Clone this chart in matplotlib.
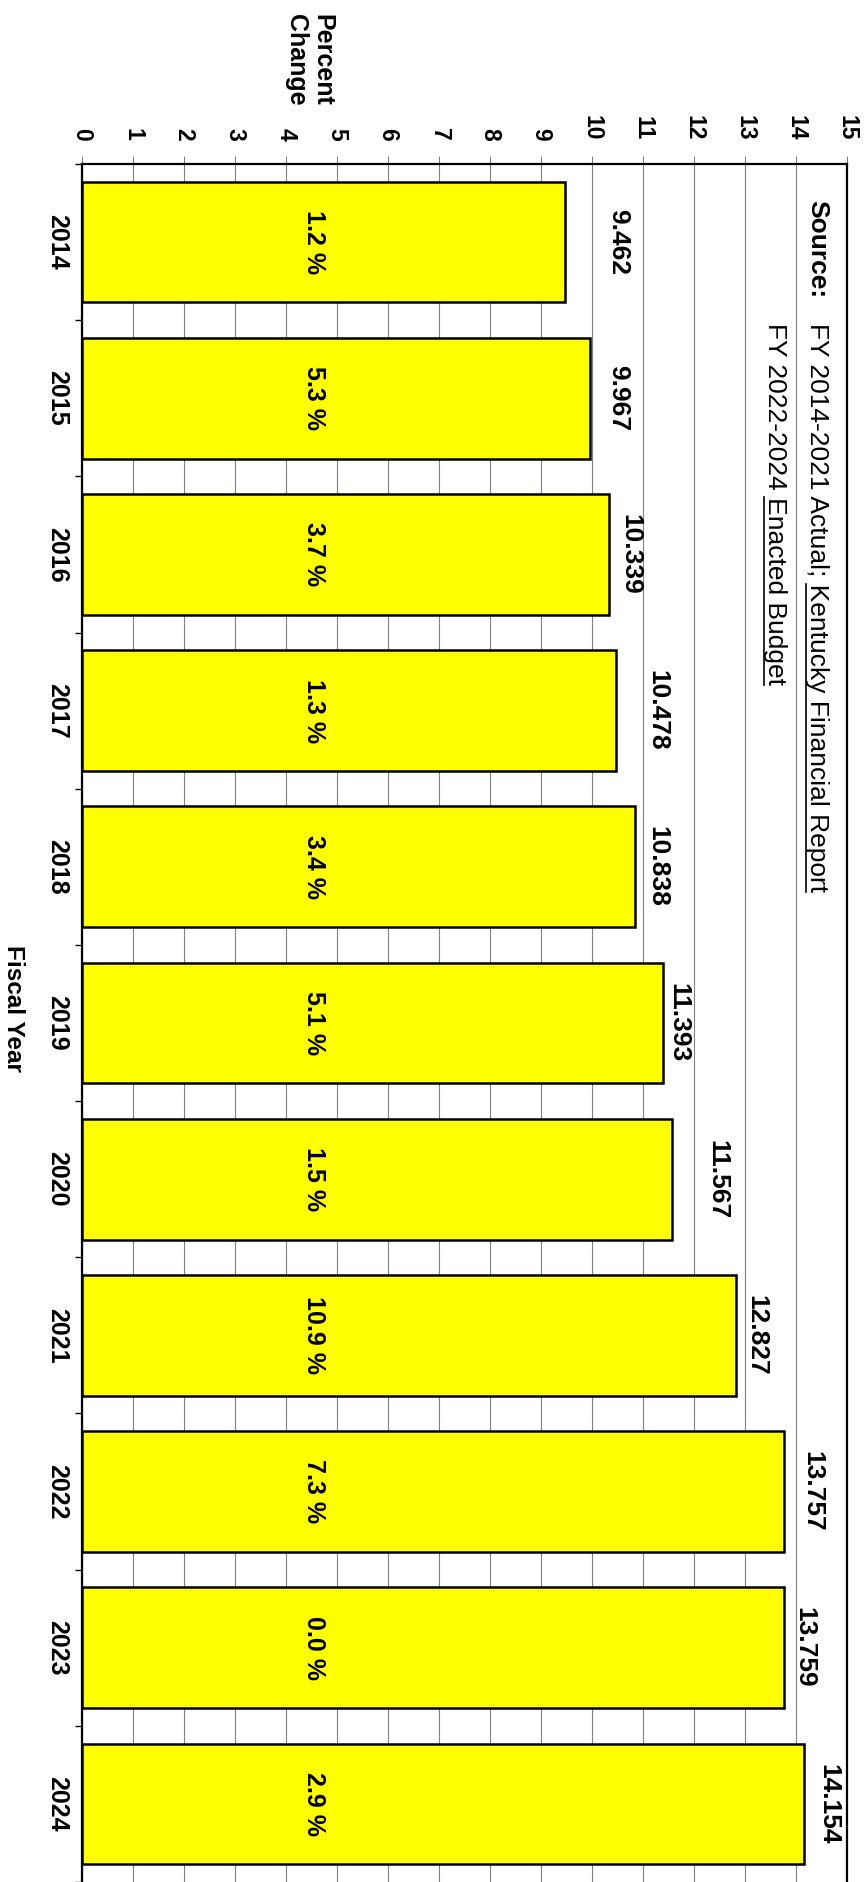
import numpy as np
import matplotlib
matplotlib.use('Agg')
import matplotlib.pyplot as plt
from matplotlib.lines import Line2D

plt.rcParams['font.family'] = ['Liberation Sans', 'DejaVu Sans']
NARROW = ['Liberation Sans Narrow', 'Liberation Sans', 'DejaVu Sans']

# data
years = ['2014', '2015', '2016', '2017', '2018', '2019', '2020', '2021', '2022', '2023', '2024']
values = [9.462, 9.967, 10.339, 10.478, 10.838, 11.393, 11.567, 12.827, 13.757, 13.759, 14.154]
pct_change = [1.2, 5.3, 3.7, 1.3, 3.4, 5.1, 1.5, 10.9, 7.3, 0.0, 2.9]

# how far right of the bar end each value label sits (data units)
label_nudge = [1.05, 0.54, 0.41, 0.81, 0.45, 0.30, 0.90, 0.39, 0.56, 0.40, 0.48]

W, H = 864, 1882
fig = plt.figure(figsize=(W / 100, H / 100), dpi=100)
ax = fig.add_axes([82 / W, 0, 765 / W, 1718 / H])

idx = np.arange(len(years))
ax.barh(idx, values, height=0.773, color='#FFFF00', edgecolor='black',
        linewidth=1.8, zorder=3)

ax.set_xlim(0, 15)
ax.set_ylim(len(years) - 0.5, -0.5)

# value axis on top, everything turned a quarter clockwise
ax.xaxis.tick_top()
ax.set_xticks(range(16))
ax.set_xticklabels([str(t) for t in range(16)], rotation=-90,
                   fontsize=16.5, fontweight='bold', family=NARROW)
ax.tick_params(axis='x', length=6, width=0.75, color='#808080', pad=11)
ax.grid(axis='x', color='#808080', linewidth=0.8, zorder=0)
ax.set_axisbelow(True)

ax.set_yticks(idx)
ax.set_yticklabels(years, rotation=-90, fontsize=18, fontweight='bold',
                   family=NARROW, va='center')
ax.tick_params(axis='y', which='major', length=0, pad=9)
ax.set_yticks(np.arange(-0.5, len(years)), minor=True)
ax.tick_params(axis='y', which='minor', length=5, width=1, color='black')

for side in ['top', 'right', 'left']:
    ax.spines[side].set_linewidth(1.6)
    ax.spines[side].set_color('black')
ax.spines['bottom'].set_visible(False)

for i, (v, p, n) in enumerate(zip(values, pct_change, label_nudge)):
    ax.text(v + n, i, f'{v:.3f}', rotation=-90, ha='center', va='center',
            fontsize=19, fontweight='bold')
    ax.text(4.55, i, f'{p:.1f} %', rotation=-90, ha='center', va='center',
            fontsize=18, fontweight='bold')

ax.text(4.45, 1 + (164 - 14) / 1718, 'Percent\nChange', transform=ax.get_xaxis_transform(),
        rotation=-90, ha='center', va='top', multialignment='left',
        fontsize=18, fontweight='bold', linespacing=1.15)

fig.text(13 / W, 1 - 1008 / H, 'Fiscal Year', rotation=-90, ha='center',
         va='center', fontsize=17.5, fontweight='bold', family=NARROW)

# source note
src_kw = dict(rotation=-90, rotation_mode='anchor', ha='left', va='baseline', fontsize=19)
fig.text(810 / W, 1 - 200 / H, 'Source:', fontweight='bold', **src_kw)
line1 = 'FY 2014-2021 Actual; Kentucky Financial Report'
line2 = 'FY 2022-2024 Enacted Budget'
fig.text(810 / W, 1 - 323 / H, line1, **src_kw)
fig.text(768 / W, 1 - 323 / H, line2, **src_kw)

renderer = fig.canvas.get_renderer()


def text_len(s):
    t = fig.text(0, 0, s, fontsize=19)
    w = t.get_window_extent(renderer=renderer).width
    t.remove()
    return w


def underline(x_px, start_px, line, word):
    pre = line[:line.index(word)]
    y0 = start_px + text_len(pre + word[0]) - text_len(word[0])
    y1 = start_px + text_len(line)
    fig.add_artist(Line2D([x_px / W, x_px / W], [1 - y0 / H, 1 - y1 / H],
                          transform=fig.transFigure, color='black', linewidth=1.2))


underline(806, 323, line1, 'Kentucky')
underline(764, 323, line2, 'Enacted')

fig.savefig('out.png', dpi=100)
